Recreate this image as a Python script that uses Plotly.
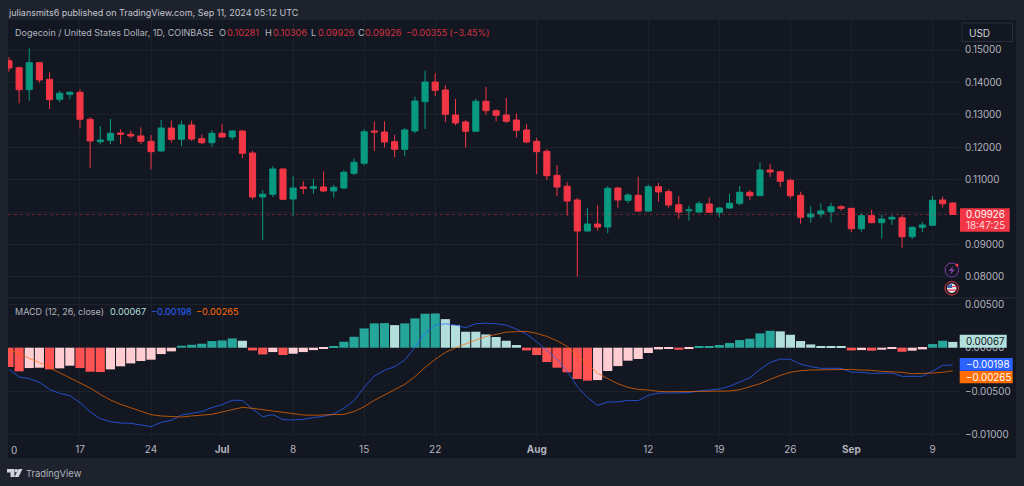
import pandas as pd
import plotly.graph_objects as go
from plotly.subplots import make_subplots

W = 1024
H = 486

dates = pd.date_range("2024-06-10", periods=94, freq="D")

opens = [.14670, .14454, .13776, .14608, .14096, .13480, .13634, .13695, .12863, .12172,
         .12215, .12440, .12400, .12348, .12184, .11885, .12594, .12246, .12687, .12265,
         .12141, .12431, .12317, .12502, .11823, .10467, .10550, .11330, .10405, .10775,
         .10735, .10775, .10652, .10744, .11197, .11506, .12502, .12471, .12172, .11938,
         .12502, .13406, .14013, .13766, .12995, .12780, .12493, .13418, .13128, .12995,
         .12841, .12533, .12184, .11876, .11136, .10797, .10374, .09418, .09634, .09541,
         .10744, .10365, .10519, .10035, .10784, .10630, .10229, .10044, .10004, .10251,
         .09995, .10127, .10272, .10611, .10507, .11299, .11247, .10982, .10519, .09850,
         .09942, .10013, .10167, .10118, .09489, .09890, .09674, .09788, .09828, .09242,
         .09532, .09594, .10374, .10281]
highs = [.14775, .14485, .15052, .14630, .14312, .13736, .13726, .13788, .12924, .12656,
         .12872, .12554, .12511, .12616, .12379, .12841, .12832, .12820, .12820, .12400,
         .12524, .12718, .12524, .12524, .11894, .10682, .11423, .11339, .11123, .10951,
         .11031, .11259, .10837, .11290, .11660, .12554, .12789, .12801, .12388, .12594,
         .13560, .14362, .14281, .13921, .13489, .12841, .13498, .13859, .13171, .13520,
         .13048, .12709, .12286, .11938, .11453, .10920, .10436, .10127, .10211, .10797,
         .10775, .10581, .11093, .10846, .10908, .10704, .10497, .10198, .10343, .10445,
         .10149, .10559, .10806, .10682, .11537, .11494, .11278, .11031, .10630, .10189,
         .10272, .10291, .10220, .10127, .09964, .10066, .09921, .09902, .09902, .09551,
         .09696, .10497, .10476, .10306]
lows = [.14331, .13356, .13436, .13992, .13180, .13396, .13480, .12585, .11370, .12092,
        .12101, .12101, .12277, .12101, .11321, .11864, .12141, .12039, .12194, .12101,
        .12018, .12295, .12224, .11660, .10396, .09140, .10467, .10374, .09881, .10559,
        .10559, .10621, .10445, .10723, .11136, .11444, .11885, .11987, .11700, .11731,
        .12431, .12564, .13581, .12780, .12678, .11987, .12480, .12995, .12801, .12749,
        .12295, .12123, .11176, .10991, .10497, .09890, .08009, .09409, .09427, .09347,
        .10137, .10272, .10004, .10013, .10322, .10137, .09797, .09736, .09982, .09982,
        .09840, .10106, .10211, .10374, .10497, .11083, .10775, .10426, .09643, .09674,
        .09819, .09674, .10044, .09387, .09396, .09655, .09180, .09603, .08903, .09171,
        .09387, .09594, .10137, .09926]
closes = [.14445, .13776, .14608, .14075, .13467, .13665, .13695, .12863, .12194, .12224,
          .12431, .12400, .12348, .12184, .11864, .12594, .12246, .12687, .12255, .12141,
          .12431, .12317, .12502, .11814, .10467, .10550, .11330, .10396, .10744, .10735,
          .10784, .10652, .10766, .11228, .11537, .12480, .12471, .12163, .11938, .12533,
          .13427, .14013, .13757, .13017, .12749, .12493, .13418, .13128, .12986, .12801,
          .12524, .12163, .11864, .11123, .10775, .10343, .09418, .09634, .09541, .10735,
          .10374, .10528, .10035, .10784, .10621, .10220, .10004, .10066, .10260, .09995,
          .10127, .10272, .10611, .10507, .11299, .11238, .10951, .10507, .09840, .09942,
          .10035, .10167, .10118, .09489, .09890, .09674, .09788, .09840, .09242, .09532,
          .09603, .10365, .10260, .09926]

hist = [-.00222, -.00272, -.00234, -.00230, -.00249, -.00237, -.00207, -.00234, -.00276, -.00280,
        -.00249, -.00214, -.00180, -.00153, -.00138, -.00073, -.00042, .00023, .00034, .00046,
        .00077, .00084, .00107, .00080, -.00031, -.00077, -.00050, -.00084, -.00069, -.00050,
        -.00027, -.00015, .00015, .00069, .00126, .00222, .00280, .00283, .00260, .00280,
        .00337, .00391, .00394, .00329, .00260, .00184, .00184, .00153, .00123, .00080,
        .00031, -.00031, -.00084, -.00165, -.00230, -.00283, -.00360, -.00379, -.00372, -.00268,
        -.00211, -.00149, -.00130, -.00061, -.00019, -.00015, -.00023, -.00015, .00015, .00016,
        .00031, .00054, .00088, .00103, .00165, .00195, .00188, .00149, .00077, .00038,
        .00015, .00015, .00011, -.00031, -.00027, -.00034, -.00023, -.00015, -.00046, -.00034,
        -.00019, .00042, .00080, .00067]
macd = [-.00249, -.00337, -.00356, -.00398, -.00479, -.00525, -.00552, -.00632, -.00739, -.00816,
        -.00850, -.00866, -.00869, -.00885, -.00908, -.00858, -.00835, -.00774, -.00751, -.00735,
        -.00689, -.00655, -.00605, -.00605, -.00705, -.00793, -.00770, -.00827, -.00831, -.00823,
        -.00804, -.00789, -.00762, -.00697, -.00609, -.00456, -.00326, -.00260, -.00218, -.00142,
        .00004, .00165, .00260, .00276, .00260, .00230, .00276, .00283, .00276, .00260,
        .00214, .00157, .00069, -.00034, -.00134, -.00268, -.00448, -.00571, -.00663, -.00624,
        -.00624, -.00605, -.00609, -.00548, -.00521, -.00521, -.00521, -.00517, -.00498, -.00490,
        -.00475, -.00444, -.00394, -.00345, -.00249, -.00169, -.00130, -.00134, -.00188, -.00218,
        -.00237, -.00237, -.00237, -.00280, -.00283, -.00295, -.00295, -.00291, -.00329, -.00333,
        -.00329, -.00268, -.00203, -.00198]
signal = [-.00027, -.00065, -.00123, -.00169, -.00230, -.00287, -.00345, -.00398, -.00463, -.00536,
          -.00601, -.00651, -.00689, -.00732, -.00770, -.00785, -.00793, -.00797, -.00785, -.00774,
          -.00766, -.00739, -.00712, -.00686, -.00697, -.00716, -.00728, -.00743, -.00762, -.00774,
          -.00777, -.00774, -.00777, -.00766, -.00735, -.00678, -.00605, -.00544, -.00479, -.00421,
          -.00333, -.00226, -.00134, -.00054, .00000, .00046, .00092, .00130, .00153, .00180,
          .00184, .00188, .00165, .00130, .00080, .00015, -.00088, -.00192, -.00291, -.00356,
          -.00414, -.00456, -.00479, -.00486, -.00502, -.00506, -.00506, -.00502, -.00506, -.00506,
          -.00506, -.00498, -.00483, -.00448, -.00414, -.00364, -.00318, -.00283, -.00264, -.00257,
          -.00253, -.00253, -.00249, -.00249, -.00257, -.00260, -.00272, -.00276, -.00283, -.00299,
          -.00299, -.00291, -.00283, -.00265]

x_tick_dates = ["2024-06-10", "2024-06-17", "2024-06-24", "2024-07-01", "2024-07-08", "2024-07-15", "2024-07-22",
                "2024-08-01", "2024-08-12", "2024-08-19", "2024-08-26", "2024-09-01", "2024-09-09"]
x_tick_labels = ["", "17", "24", "<b>Jul</b>", "8", "15", "22", "<b>Aug</b>", "12", "19", "26", "<b>Sep</b>", "9"]
price_ticks = [0.08, 0.09, 0.11, 0.12, 0.13, 0.14, 0.15]
price_labels = ["0.08000", "0.09000", "0.11000", "0.12000", "0.13000", "0.14000", "0.15000"]
macd_ticks = [0.005, 0.0, -0.005, -0.01]
macd_labels = ["0.00500", "0.00000", "\u22120.00500", "\u22120.01000"]

BG = "#1e222d"
PANEL = "#131722"
GRID = "#1d212c"
TXT = "#b2b5be"
GREEN = "#089981"
RED = "#f23645"
BLUE = "#2962ff"
ORANGE = "#ff6d00"
FONT = "Inter"


def px(x):
    return x / W


def py(y):
    return 1 - y / H


def hist_colors(vals):
    out = []
    for i, v in enumerate(vals):
        up = i > 0 and v > vals[i - 1]
        if v >= 0:
            out.append("#26a69a" if up else "#b2dfdb")
        else:
            out.append("#ffcdd2" if up else "#ff5252")
    return out


def note(x, y, text, color=TXT, size=9.2, anchor="left"):
    # annotations sit about 1px right of the asked x
    fig.add_annotation(xref="paper", yref="paper", x=px(x - 1), y=py(y), text=text, showarrow=False,
                       xanchor=anchor, yanchor="middle", borderpad=0,
                       font=dict(family=FONT, size=size, color=color))


def box(x0, y0, x1, y1, fill, line=None, layer="above", kind="rect"):
    fig.add_shape(type=kind, xref="paper", yref="paper", x0=px(x0), x1=px(x1), y0=py(y0), y1=py(y1),
                  fillcolor=fill, layer=layer, line=dict(color=line or fill, width=1 if line else 0))


def path(points, fill):
    d = "M " + " L ".join(f"{px(a):.5f} {py(b):.5f}" for a, b in points) + " Z"
    fig.add_shape(type="path", xref="paper", yref="paper", path=d, fillcolor=fill, line=dict(width=0))


fig = make_subplots(rows=2, cols=1, shared_xaxes=True, vertical_spacing=0)

fig.add_trace(go.Candlestick(x=dates, open=opens, high=highs, low=lows, close=closes, hoverinfo="skip",
                             increasing=dict(line=dict(color=GREEN, width=1), fillcolor=GREEN),
                             decreasing=dict(line=dict(color=RED, width=1), fillcolor=RED),
                             whiskerwidth=0), row=1, col=1)
fig.add_trace(go.Bar(x=dates, y=hist, marker=dict(color=hist_colors(hist), line=dict(width=0)), hoverinfo="skip"),
              row=2, col=1)
fig.add_trace(go.Scatter(x=dates, y=macd, mode="lines", line=dict(color=BLUE, width=1), opacity=0.75, hoverinfo="skip"),
              row=2, col=1)
fig.add_trace(go.Scatter(x=dates, y=signal, mode="lines", line=dict(color=ORANGE, width=1), opacity=0.7, hoverinfo="skip"),
              row=2, col=1)

x_range = ["2024-06-09 21:45", "2024-09-11 14:38"]
fig.update_xaxes(range=x_range, type="date", domain=[px(8), px(959)], tickvals=x_tick_dates, ticktext=x_tick_labels,
                 showgrid=True, gridcolor=GRID, gridwidth=1, zeroline=False, showline=False, automargin=False,
                 tickfont=dict(family=FONT, size=10, color=TXT), ticks="outside", ticklen=3,
                 tickcolor="rgba(0,0,0,0)", rangeslider_visible=False, tickangle=0)
fig.update_xaxes(showticklabels=False, ticks="", row=1, col=1)
fig.update_yaxes(side="right", showgrid=True, gridcolor=GRID, zeroline=False, showline=False, ticks="", automargin=False,
                 ticklabelstandoff=5, tickfont=dict(family=FONT, size=9.8, color=TXT))
fig.update_yaxes(domain=[py(298), py(20)], range=[0.07352, 0.15925], tickvals=price_ticks + [0.10],
                 ticktext=price_labels + [""], row=1, col=1)
fig.update_yaxes(domain=[py(437), py(298)], range=[-0.01027, 0.00572], tickvals=macd_ticks, ticktext=macd_labels,
                 row=2, col=1)

fig.update_layout(width=W, height=H, margin=dict(l=0, r=0, t=0, b=0, autoexpand=False), paper_bgcolor=BG,
                  plot_bgcolor="rgba(0,0,0,0)", showlegend=False, bargap=0.1, boxgap=0.14,
                  font=dict(family=FONT, size=10, color=TXT))

# frame of the chart
box(8, 20, 1016, 458, PANEL, layer="below")
fig.add_shape(type="line", xref="paper", yref="paper", x0=px(8), x1=px(1016), y0=py(298), y1=py(298),
              line=dict(color="#2a2e39", width=1))
# last price line
fig.add_shape(type="line", xref="x", yref="y", x0=x_range[0], x1=x_range[1], y0=closes[-1], y1=closes[-1],
              line=dict(color=RED, width=1, dash="dot"), opacity=0.4)

note(7.5, 12, "juliansmits6 published on TradingView.com, Sep 11, 2024 05:12 UTC", color="#c3c6ce", size=9)
note(14.5, 32, "Dogecoin / United States Dollar, 1D, COINBASE", size=9)
note(219, 32, "O")
note(227, 32, "0.10281", color="#d2323f")
note(265, 32, "H")
note(272.5, 32, "0.10306", color="#d2323f")
note(311, 32, "L")
note(317.5, 32, "0.09926", color="#d2323f")
note(358, 32, "C")
note(364.5, 32, "0.09926", color="#d2323f")
note(406, 32, "\u22120.00355 (\u22123.45%)", color="#d2323f", size=8.9)

note(14.5, 311, "MACD (12, 26, close)", size=9)
note(109.5, 311, "0.00067", color="#b2dfdb")
note(150.5, 311, "\u22120.00198", color=BLUE)
note(196, 311, "\u22120.00265", color=ORANGE)

note(10.5, 449.5, "0", size=10)

# usd button
box(962, 23, 1012.5, 41.5, PANEL, line="#2a2e39")
note(969, 33, "USD", color="#d1d4dc", size=10)

# value tags
box(960, 208.3, 1009.7, 231.7, RED)
note(966, 214.5, "0.09926", color="#ffffff", size=9.8)
note(966, 225.5, "18:47:25", color="#ffd6da", size=9.8)
box(959.7, 334.7, 1006.7, 347.7, "#b2dfdb")
note(966, 341.2, "0.00067", color=PANEL, size=9.8)
box(959.7, 358, 1012.7, 370.7, BLUE)
note(966, 364.4, "\u22120.00198", color="#ffffff", size=9.8)
box(959.7, 371, 1012.7, 383.3, ORANGE)
note(966, 377.2, "\u22120.00265", color="#ffffff", size=9.8)

# event icons
box(945, 263, 958.5, 277, PANEL, line="#7e3fa8", kind="circle")
path([(953.5, 265.5), (948.5, 271), (951.5, 271), (950, 275), (955, 269.5), (952, 269.5)], "#7e3fa8")
box(955.5, 263.5, 958.5, 266.5, RED, kind="circle")
box(945, 281.5, 958.5, 295, PANEL, line=RED, kind="circle")
box(947, 283.5, 956.5, 293, "#e6e6ee", kind="circle")
path([(948, 285), (952, 284), (952, 288), (947.2, 288)], "#3c5fa8")
path([(952, 286), (956.5, 286), (956.5, 287), (952, 287)], RED)
path([(947.2, 289.5), (956.5, 289.5), (956.2, 290.7), (947.6, 290.7)], RED)

# tradingview mark
path([(7, 469), (14.5, 469), (14.5, 477), (10.5, 477), (10.5, 472.5), (7, 472.5)], "#d1d4dc")
box(14.5, 469, 18, 472.5, "#d1d4dc", kind="circle")
path([(18.5, 469), (22.5, 469), (18.5, 477), (14.5, 477)], "#d1d4dc")
note(26, 473, "TradingView", size=9.4)

post = ("document.documentElement.style.overflow='hidden';"
        "document.body.style.margin='0';document.body.style.background='" + BG + "';")
fig.write_html("out.html", config={"displayModeBar": False}, post_script=post)
